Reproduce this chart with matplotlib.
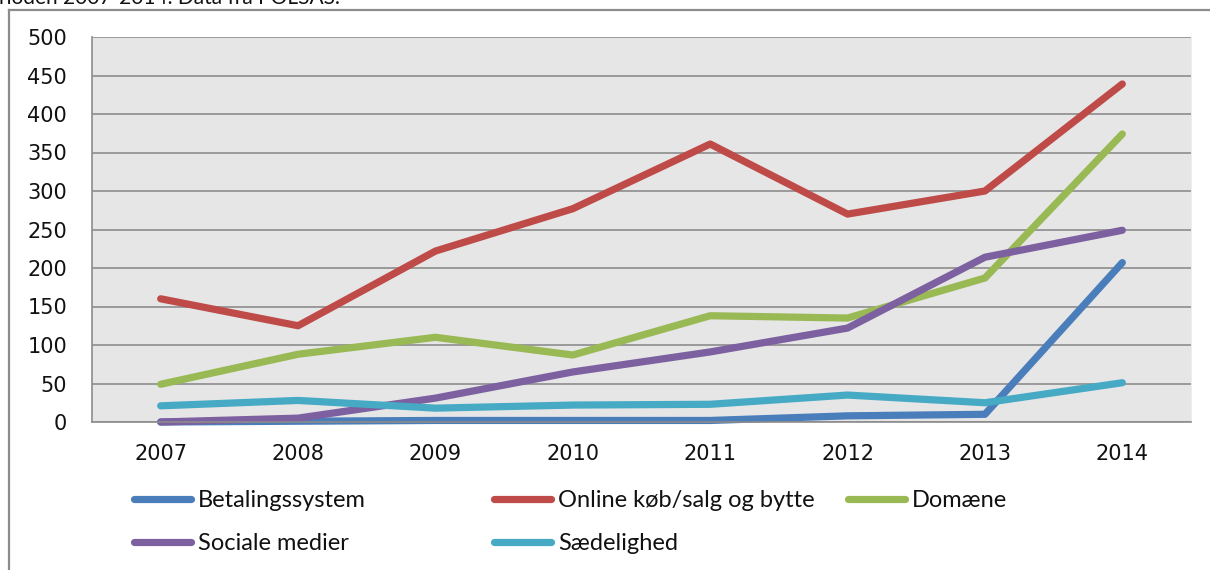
import matplotlib.pyplot as plt
from matplotlib.lines import Line2D

years = ['2007', '2008', '2009', '2010', '2011', '2012', '2013', '2014']

betaling = [0, 1, 2, 2, 2, 8, 10, 207]
online = [160, 125, 222, 277, 361, 270, 300, 439]
domaene = [49, 88, 110, 87, 138, 135, 187, 374]
sociale = [0, 5, 31, 65, 91, 122, 214, 249]
saedelighed = [21, 28, 18, 22, 23, 35, 25, 51]

series = [
    ('Betalingssystem', betaling, '#4A7EBB'),
    ('Online køb/salg og bytte', online, '#BE4B48'),
    ('Domæne', domaene, '#98B954'),
    ('Sociale medier', sociale, '#7D60A0'),
    ('Sædelighed', saedelighed, '#46AAC5'),
]

W, H = 1210, 570
fig = plt.figure(figsize=(W / 100, H / 100), dpi=100)

# outer chart frame (only top and left edge visible in the crop)
fig.add_artist(Line2D([9 / W, 9 / W], [0, 1 - 10 / H], color='#8c8c8c', lw=1.6))
fig.add_artist(Line2D([9 / W, 1], [1 - 10 / H, 1 - 10 / H], color='#8c8c8c', lw=1.6))

# caption of the page, cut by the top edge as in the original
fig.text(-0.001, 1.004, 'rioden 2007-2014. Data fra POLSAS.', fontsize=15,
         family='Lato', va='center', ha='left', color='#111111')

ax = fig.add_axes([92 / W, 1 - 422 / H, (1191 - 92) / W, (422 - 37) / H])
ax.set_facecolor('#E6E6E6')

x = list(range(len(years)))
handles = {}
for name, vals, color in series:
    ln, = ax.plot(x, vals, color=color, lw=5.2, solid_capstyle='round',
                  solid_joinstyle='round', label=name, clip_on=False)
    handles[name] = ln

ax.set_xlim(-0.5, len(years) - 0.5)
ax.set_ylim(0, 500)
ax.set_yticks(range(0, 501, 50))
ax.set_xticks(x)
ax.set_xticklabels(years)
ax.yaxis.grid(True, color='#8c8c8c', lw=1.2)
ax.set_axisbelow(True)
ax.tick_params(length=0, labelsize=15, colors='#111111')
ax.tick_params(axis='y', pad=18)
ax.tick_params(axis='x', pad=16)
for lab in ax.get_xticklabels() + ax.get_yticklabels():
    lab.set_family('DejaVu Sans')
ax.spines['top'].set_visible(False)
ax.spines['right'].set_color('#ededed')
for s in ['left', 'bottom']:
    ax.spines[s].set_color('#8c8c8c')
    ax.spines[s].set_linewidth(1.2)

# legend, laid out in three columns like the original
cols = [
    (134, ['Betalingssystem', 'Sociale medier']),
    (494, ['Online køb/salg og bytte', 'Sædelighed']),
    (848, ['Domæne']),
]
for xpos, names in cols:
    leg = fig.legend([handles[n] for n in names], names, loc='upper left',
                     bbox_to_anchor=(xpos / W, 1 - 490 / H), frameon=False,
                     prop={'family': 'Lato', 'size': 17}, handlelength=2.4,
                     handletextpad=0.3, labelspacing=0.95, borderaxespad=0,
                     borderpad=0)
    for t in leg.get_texts():
        t.set_color('#111111')

fig.savefig('out.png', dpi=100)
